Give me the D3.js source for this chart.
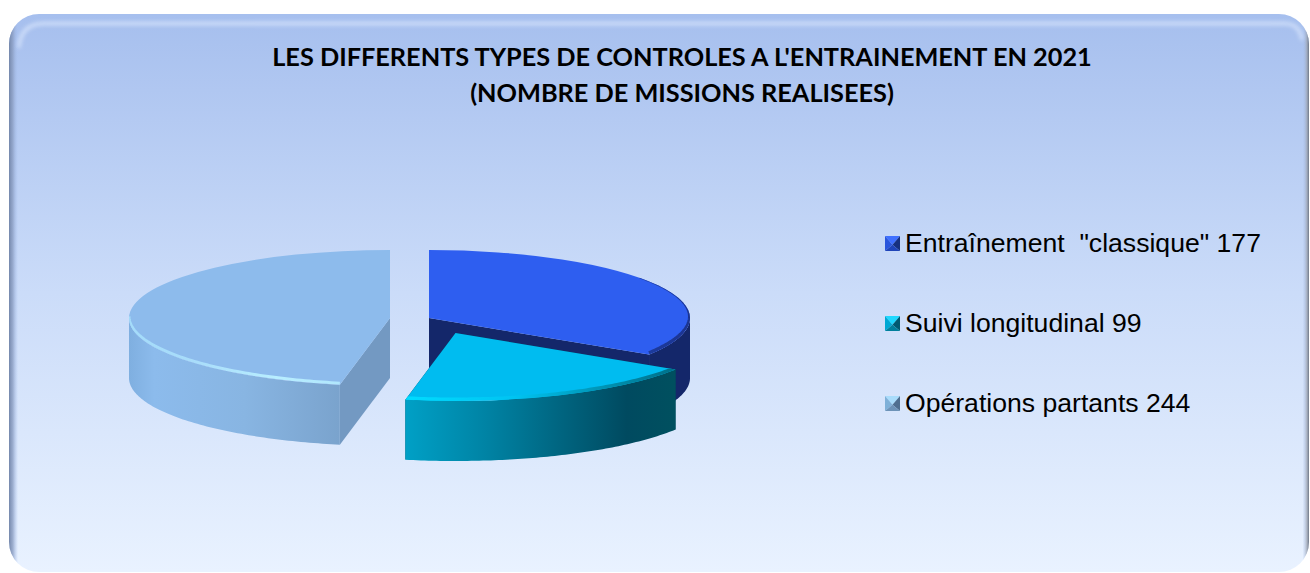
<!DOCTYPE html>
<html lang="fr">
<head>
<meta charset="utf-8">
<script src="https://cdn.jsdelivr.net/npm/d3@7/dist/d3.min.js"></script>
<style>
html,body{margin:0;padding:0;background:#fff;overflow:hidden}
svg{display:block}
</style>
</head>
<body>
<svg id="c" width="1310" height="573"></svg>
<script>
// ---- data ----
const categories = ['Entraînement  "classique"', 'Suivi longitudinal', 'Opérations partants'];
const values = [177, 99, 244];
const titleLines = ["LES DIFFERENTS TYPES DE CONTROLES A L'ENTRAINEMENT EN 2021", "(NOMBRE DE MISSIONS REALISEES)"];

// ---- styles ----
const topColors  = ['#2e5ef0', '#00bcf0', '#8dbbec'];
const faceColors = ['#14276a', '#00485c', '#7399c2'];
const rimStops = [
  [[0, '#14276a'], [1, '#14276a']],
  [[0, '#00a0c6'], [0.3, '#0083a4'], [0.82, '#004a60'], [1, '#00505f']],
  [[0, '#7fafe0'], [0.12, '#8cbbec'], [0.55, '#88b5e2'], [1, '#7aa3cd']]
];
const bevelStops = [
  [[0, '#2e5ef0'], [0.55, '#2a52d6'], [0.85, '#1d3a9c'], [1, '#1a3490']],
  [[0, '#00dcff'], [0.4, '#00c4f2'], [0.75, '#0090b0'], [1, '#006f88']],
  [[0, '#a4dcfa'], [0.3, '#a8dcfa'], [0.7, '#b8eeff'], [1, '#b0e6fc']]
];
const markerShades = [
  ['#3f70ff', '#2a56dc', '#16307f', '#1f44b8'],
  ['#1fd8ff', '#00a8d4', '#005a72', '#007f9c'],
  ['#a9dcfb', '#7fb0d8', '#4f6f90', '#6d93b8']
];
const explode = [{dx: 19, dy: 0}, {dx: 45.5, dy: 15}, {dx: -20, dy: 0}];
const L = {cx: 410, cy: 318, rx: 261, ry: 68, depth: 60, legendX: 885, legendTextX: 905, legendY: [252, 332, 412]};

const svg = d3.select('#c');
const defs = svg.append('defs');

// ---- panel ----
const bg = defs.append('linearGradient').attr('id', 'bg').attr('x1', 0).attr('x2', 0).attr('y1', 0).attr('y2', 1);
bg.append('stop').attr('offset', 0).attr('stop-color', '#a6bfee');
bg.append('stop').attr('offset', 0.5).attr('stop-color', '#cbdcf9');
bg.append('stop').attr('offset', 1).attr('stop-color', '#e9f2ff');
const edge = defs.append('linearGradient').attr('id', 'edge').attr('x1', 0).attr('x2', 1).attr('y1', 0).attr('y2', 0);
[[0, '#7487ab', 1], [0.003, '#8c9fc4', 0.8], [0.007, '#a6bfee', 0], [0.995, '#a6bfee', 0], [0.998, '#a0a8b8', 0.7], [1, '#6f7886', 1]]
  .forEach(s => edge.append('stop').attr('offset', s[0]).attr('stop-color', s[1]).attr('stop-opacity', s[2]));
defs.append('filter').attr('id', 'soft').attr('filterUnits', 'userSpaceOnUse')
  .attr('x', 0).attr('y', 0).attr('width', 1310).attr('height', 700)
  .append('feGaussianBlur').attr('stdDeviation', 2.2);
defs.append('filter').attr('id', 'soft1').attr('filterUnits', 'userSpaceOnUse')
  .attr('x', 0).attr('y', 0).attr('width', 1310).attr('height', 573)
  .append('feGaussianBlur').attr('stdDeviation', 0.7);
defs.append('clipPath').attr('id', 'panelClip').append('rect')
  .attr('x', 9).attr('y', 14).attr('width', 1300).attr('height', 558).attr('rx', 30);

const panel = svg.append('g').attr('clip-path', 'url(#panelClip)');
panel.append('rect').attr('x', 9).attr('y', 14).attr('width', 1300).attr('height', 558).attr('fill', 'url(#bg)');
panel.append('rect').attr('x', 9).attr('y', 14).attr('width', 1300).attr('height', 558).attr('fill', 'url(#edge)');
panel.append('path').attr('d', 'M19,48 Q20,24 44,23.5 L1285,23.5 Q1300,24 1302,40')
  .attr('fill', 'none').attr('stroke', '#e4eeff').attr('stroke-width', 3).attr('opacity', 0.8).attr('filter', 'url(#soft)');

// ---- pie ----
const pie = d3.pie().value(d => d).sort(null).startAngle(0).endAngle(2 * Math.PI);
const arcs = pie(values);
const arcGen = d3.arc().innerRadius(0).outerRadius(L.rx);
const FRONT0 = Math.PI / 2, FRONT1 = 3 * Math.PI / 2;
const yRatio = L.ry / L.rx;
const x = (c, a) => c.x + L.rx * Math.sin(a);
const y = (c, a, z) => c.y - L.ry * Math.cos(a) + z;
const line = d3.line();
const sweep = (a0, a1) => d3.range(0, 81).map(i => a0 + (a1 - a0) * i / 80);

function rimPath(c, a0, a1) {
  const upper = sweep(a0, a1).map(a => [x(c, a), y(c, a, 0)]);
  const lower = sweep(a1, a0).map(a => [x(c, a), y(c, a, L.depth)]);
  return line(upper.concat(lower)) + 'Z';
}
function facePath(c, a) {
  return line([[c.x, c.y], [x(c, a), y(c, a, 0)], [x(c, a), y(c, a, L.depth)], [c.x, c.y + L.depth]]) + 'Z';
}
function addGradient(id, stops, x1, x2) {
  const g = defs.append('linearGradient').attr('id', id).attr('gradientUnits', 'userSpaceOnUse')
    .attr('x1', x1).attr('x2', x2).attr('y1', 0).attr('y2', 0);
  stops.forEach(s => g.append('stop').attr('offset', s[0]).attr('stop-color', s[1]));
}

const pieG = svg.append('g');
[2, 0, 1].forEach(i => {
  const d = arcs[i];
  const c = {x: L.cx + explode[i].dx, y: L.cy + explode[i].dy};
  const g = pieG.append('g');
  const a0 = Math.max(d.startAngle, FRONT0), a1 = Math.min(d.endAngle, FRONT1);
  const xs = sweep(a0, a1).map(a => x(c, a));
  const xMin = d3.min(xs), xMax = d3.max(xs);
  addGradient('rim' + i, rimStops[i], xMin, xMax);
  addGradient('bevel' + i, bevelStops[i], i === 0 ? c.x : xMin, xMax);

  // cut faces
  [d.startAngle, d.endAngle].forEach(a => {
    g.append('path').attr('d', facePath(c, a)).attr('fill', faceColors[i]);
  });
  // outer wall
  g.append('path').attr('d', rimPath(c, a0, a1)).attr('fill', `url(#rim${i})`);
  // top
  const clipId = 'topClip' + i;
  const topD = arcGen({startAngle: d.startAngle, endAngle: d.endAngle});
  const tf = `translate(${c.x},${c.y}) scale(1,${yRatio})`;
  defs.append('clipPath').attr('id', clipId).append('path').attr('d', topD).attr('transform', tf);
  g.append('path').attr('d', topD).attr('transform', tf).attr('fill', topColors[i]);
  // bevel along the front edge of the top
  const bA0 = i === 0 ? Math.PI * 0.3 : a0;
  const inset = i === 2 ? 1.6 : 1.5;
  const bevelLine = line(sweep(bA0, a1).map(a => [x(c, a), y(c, a, -inset)]));
  g.append('g').attr('clip-path', `url(#${clipId})`)
    .append('path').attr('d', bevelLine).attr('fill', 'none')
    .attr('stroke', `url(#bevel${i})`).attr('stroke-width', i === 2 ? 3 : 4)
    .attr('filter', 'url(#soft1)');
});

// ---- title ----
svg.append('g').selectAll('text').data(titleLines).join('text')
  .attr('x', 682).attr('y', (d, i) => 66 + i * 35.5)
  .attr('text-anchor', 'middle')
  .attr('font-family', 'Lato, "Open Sans", sans-serif')
  .attr('font-weight', 700).attr('font-size', 25.3).attr('fill', '#000')
  .text(d => d);

// ---- legend ----
const legendLabels = categories.map((c, i) => `${c} ${values[i]}`);
const legend = svg.append('g').selectAll('g').data(legendLabels).join('g')
  .attr('transform', (d, i) => `translate(${L.legendX},${L.legendY[i]})`);
const s = 15;
legend.each(function (d, i) {
  const g = d3.select(this);
  const m = [s / 2, -1 - s * 0.42];
  const tl = [0, -1 - s], tr = [s, -1 - s], bl = [0, -1], br = [s, -1];
  [[tl, tr, m], [tl, bl, m], [tr, br, m], [bl, br, m]].forEach((t, k) => {
    g.append('path').attr('d', line(t) + 'Z').attr('fill', markerShades[i][k]);
  });
});
legend.append('text')
  .attr('x', L.legendTextX - L.legendX).attr('y', 0)
  .attr('xml:space', 'preserve').style('white-space', 'pre')
  .attr('font-family', '"Liberation Sans", Arial, sans-serif')
  .attr('font-size', 26.6).attr('fill', '#000')
  .text(d => d);
</script>
</body>
</html>
